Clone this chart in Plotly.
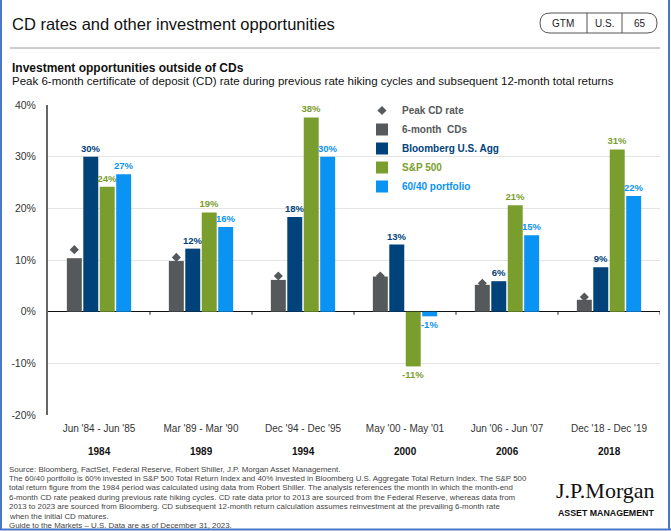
import plotly.graph_objects as go

# ---------------- data ----------------
periods = ["Jun '84 - Jun '85", "Mar '89 - Mar '90", "Dec '94 - Dec '95",
           "May '00 - May '01", "Jun '06 - Jun '07", "Dec '18 - Dec '19"]
years = ["1984", "1989", "1994", "2000", "2006", "2018"]
peak_cd = [12.0, 10.5, 6.9, 6.9, 5.5, 2.85]
cd_6m = [10.35, 9.8, 6.15, 6.8, 5.2, 2.3]
agg = [29.96, 12.2, 18.3, 13.0, 5.9, 8.6]
sp500 = [24.2, 19.2, 37.6, -10.6, 20.6, 31.4]
port_6040 = [26.6, 16.4, 29.96, -0.9, 14.8, 22.4]
y_ticks = [-20, -10, 0, 10, 20, 30, 40]
y_tick_text = [f"{v}%" for v in y_ticks]

footer_lines = [
    "Source: Bloomberg, FactSet, Federal Reserve, Robert Shiller, J.P. Morgan Asset Management.",
    "The 60/40 portfolio is 60% invested in S&P 500 Total Return Index and 40% invested in Bloomberg U.S. "
    "Aggregate Total Return Index. The S&P 500",
    "total return figure from the 1984 period was calculated using data from Robert Shiller. The analysis "
    "references the month in which the month-end",
    "6-month CD rate peaked during previous rate hiking cycles. CD rate data prior to 2013 are sourced from "
    "the Federal Reserve, whereas data from",
    "2013 to 2023 are sourced from Bloomberg. CD subsequent 12-month return calculation assumes "
    "reinvestment at the prevailing 6-month rate",
    "when the initial CD matures.",
    "Guide to the Markets – U.S. Data are as of December 31, 2023.",
]

# ---------------- style ----------------
C_GRAY = "#56595c"
C_NAVY = "#00437a"
C_GREEN = "#7a9e2d"
C_BLUE = "#0a93f2"
FONT = "Liberation Sans, Arial, sans-serif"

W, H = 671, 531
L, R, T, B = 48, 660, 105, 415
PW, PH = R - L, B - T


def xp(px):
    return (px - L) / PW


def yp(py):
    return (B - py) / PH


BARGAP = 0.355
BARGROUPGAP = 0.09
n_bars = 4
xs = list(range(len(periods)))
slot = (1 - BARGAP) / n_bars
cd_x = [x - (1 - BARGAP) / 2 + slot / 2 for x in xs]

fig = go.Figure()

fig.add_trace(go.Scatter(
    x=cd_x, y=peak_cd, mode="markers", name=f"<span style='color:{C_GRAY}'>Peak CD rate</span>",
    marker=dict(symbol="diamond", size=7, color=C_GRAY), cliponaxis=False,
))


def add_bar(vals, color, name, labels):
    fig.add_trace(go.Bar(
        x=xs, y=vals, name=f"<span style='color:{color}'>{name}</span>",
        marker=dict(color=color, line=dict(width=0)),
        texttemplate="%{y:.0f}%" if labels else None,
        textposition="outside" if labels else "none",
        constraintext="none",
        textfont=dict(color=color, size=9.5, family=FONT, weight="bold"),
        cliponaxis=False,
    ))


add_bar(cd_6m, C_GRAY, "6-month  CDs", False)
add_bar(agg, C_NAVY, "Bloomberg U.S. Agg", True)
add_bar(sp500, C_GREEN, "S&P 500", True)
add_bar(port_6040, C_BLUE, "60/40 portfolio", True)

shapes = []
# boundary ticks on zero line
for b in [x + 0.5 for x in xs]:
    shapes.append(dict(type="line", xref="x", yref="y", x0=b, x1=b, y0=0, y1=-0.6,
                       line=dict(color="#222", width=1)))
# header rule
shapes.append(dict(type="line", xref="paper", yref="paper", x0=xp(10), x1=xp(660),
                   y0=yp(48), y1=yp(48), line=dict(color="#9a9a9a", width=1)))
# GTM box (rounded)
bx0, bx1, by0, by1, r = 540, 657, 13, 33, 10
path = (f"M {xp(bx0 + r)},{yp(by0)} L {xp(bx1 - r)},{yp(by0)} "
        f"Q {xp(bx1)},{yp(by0)} {xp(bx1)},{yp((by0 + by1) / 2)} "
        f"Q {xp(bx1)},{yp(by1)} {xp(bx1 - r)},{yp(by1)} "
        f"L {xp(bx0 + r)},{yp(by1)} "
        f"Q {xp(bx0)},{yp(by1)} {xp(bx0)},{yp((by0 + by1) / 2)} "
        f"Q {xp(bx0)},{yp(by0)} {xp(bx0 + r)},{yp(by0)} Z")
shapes.append(dict(type="path", xref="paper", yref="paper", path=path,
                   line=dict(color="#555", width=1)))
for dx in (587, 622):
    shapes.append(dict(type="line", xref="paper", yref="paper", x0=xp(dx), x1=xp(dx),
                       y0=yp(by0), y1=yp(by1), line=dict(color="#555", width=1)))
# blue frame
frame = "#4a78c8"
shapes.append(dict(type="line", xref="paper", yref="paper", x0=xp(1), x1=xp(1),
                   y0=yp(0), y1=yp(530), line=dict(color=frame, width=2)))
shapes.append(dict(type="line", xref="paper", yref="paper", x0=xp(669), x1=xp(669),
                   y0=yp(0), y1=yp(530), line=dict(color=frame, width=2)))
shapes.append(dict(type="line", xref="paper", yref="paper", x0=xp(0), x1=xp(671),
                   y0=yp(529.5), y1=yp(529.5), line=dict(color=frame, width=2)))

ann = []


def text(px, py, s, size, color="#222", family=FONT, xanchor="left", yanchor="middle", align="left"):
    ann.append(dict(x=xp(px), y=yp(py), xref="paper", yref="paper", text=s, showarrow=False,
                    xanchor=xanchor, yanchor=yanchor, align=align,
                    font=dict(size=size, color=color, family=family)))


text(10, 24, "CD rates and other investment opportunities", 16.5, "#111")
text(563, 23, "GTM", 10, "#222", xanchor="center")
text(604.5, 23, "U.S.", 10, "#222", xanchor="center")
text(640, 23, "65", 10, "#222", xanchor="center")
text(10, 68, "<b>Investment opportunities outside of CDs</b>", 12, "#111")
text(10, 81, "Peak 6-month certificate of deposit (CD) rate during previous rate hiking cycles "
     "and subsequent 12-month total returns", 11.5, "#111")

# year labels below periods
for x, yr in zip(xs, years):
    ann.append(dict(x=x, y=yp(451), xref="x", yref="paper", text=f"<b>{yr}</b>", showarrow=False,
                    xanchor="center", yanchor="middle", font=dict(size=10, color="#111", family=FONT)))

for i, line in enumerate(footer_lines):
    text(7, 469 + 9.4 * i, line, 7.9, "#444", FONT)

text(605, 490, "J.P.Morgan", 22, "#111", "Liberation Serif, DejaVu Serif, serif", xanchor="center")
text(606, 513, "<b>ASSET MANAGEMENT</b>", 8.8, "#111", FONT, xanchor="center")

fig.update_layout(
    width=W, height=H,
    margin=dict(l=L, r=W - R, t=T, b=H - B, pad=0),
    paper_bgcolor="white", plot_bgcolor="white",
    barmode="group", bargap=BARGAP, bargroupgap=BARGROUPGAP,
    font=dict(family=FONT, size=10, color="#333"),
    showlegend=True,
    legend=dict(x=xp(362), y=yp(96), xanchor="left", yanchor="top",
                bgcolor="rgba(0,0,0,0)", font=dict(size=10, family=FONT, weight="bold"),
                itemwidth=30, tracegroupgap=0),
    shapes=shapes, annotations=ann,
    xaxis=dict(range=[-0.5, len(periods) - 0.5], tickmode="array", tickvals=xs, ticktext=periods,
               showgrid=False, zeroline=False, showline=False, ticks="",
               tickfont=dict(size=10, color="#333"), ticklabelstandoff=6),
    yaxis=dict(range=[-20, 40], tickmode="array", tickvals=y_ticks, ticktext=y_tick_text,
               showgrid=True, gridcolor="#e4e4e4", gridwidth=1,
               zeroline=True, zerolinecolor="#111", zerolinewidth=1,
               showline=True, linecolor="#666", linewidth=2,
               ticks="outside", ticklen=8, tickcolor="rgba(0,0,0,0)",
               tickfont=dict(size=10.5, color="#333")),
)

fig.write_html("out.html")
